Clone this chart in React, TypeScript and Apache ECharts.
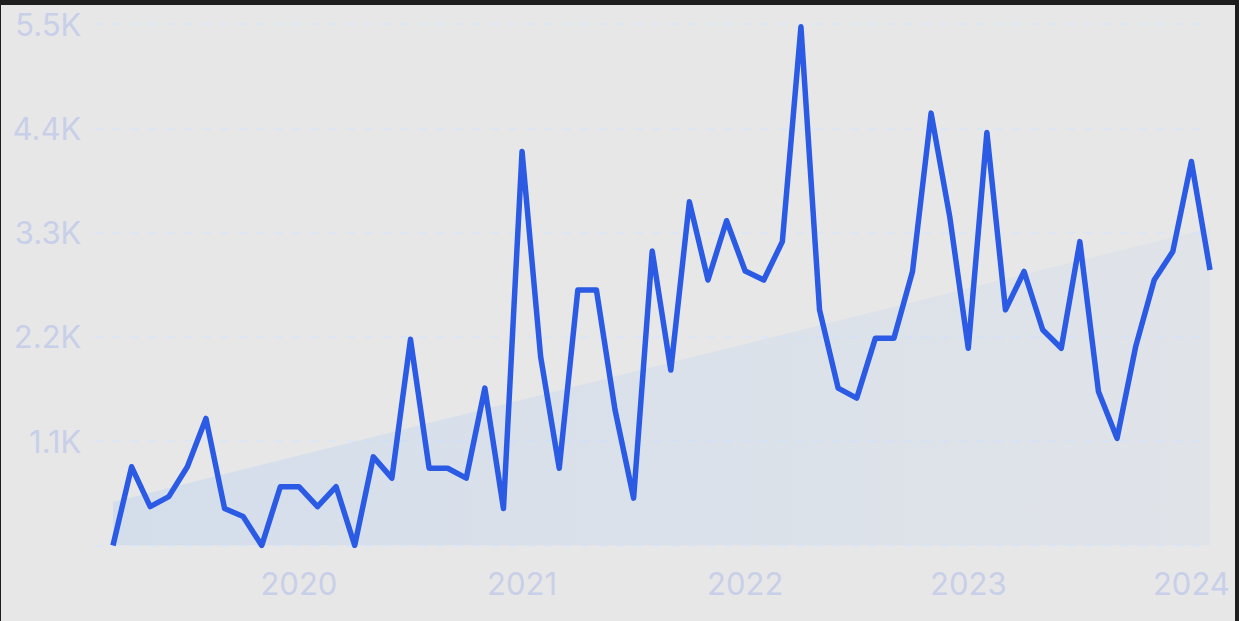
import React, { useEffect, useRef } from "react";
import * as echarts from "echarts";

// Month categories (first one is an empty lead-in slot before the data starts)
const categories = [
  "2019-02", "2019-03", "2019-04", "2019-05", "2019-06", "2019-07", "2019-08", "2019-09", "2019-10", "2019-11", "2019-12",
  "2020-01", "2020-02", "2020-03", "2020-04", "2020-05", "2020-06", "2020-07", "2020-08", "2020-09", "2020-10", "2020-11", "2020-12",
  "2021-01", "2021-02", "2021-03", "2021-04", "2021-05", "2021-06", "2021-07", "2021-08", "2021-09", "2021-10", "2021-11", "2021-12",
  "2022-01", "2022-02", "2022-03", "2022-04", "2022-05", "2022-06", "2022-07", "2022-08", "2022-09", "2022-10", "2022-11", "2022-12",
  "2023-01", "2023-02", "2023-03", "2023-04", "2023-05", "2023-06", "2023-07", "2023-08", "2023-09", "2023-10", "2023-11", "2023-12",
  "2024-01", "2024-02",
];

// Monthly values from 2019-03 to 2024-02
const values = [
  0, 830, 410, 515, 830, 1340, 390, 305, 0, 620,
  620, 410, 620, 0, 935, 710, 2175, 815, 815, 710,
  1660, 390, 4155, 1990, 815, 2695, 2695, 1430, 500, 3105,
  1850, 3625, 2800, 3425, 2895, 2800, 3205, 5470, 2485, 1660,
  1555, 2185, 2185, 2890, 4560, 3470, 2080, 4355, 2485, 2890,
  2275, 2080, 3205, 1625, 1130, 2095, 2800, 3100, 4050, 2905,
];

// Trend band: start and end values
const trendCategories = ["2019-03", "2024-02"];
const trendValues = [460, 3350];

const yTicks = { min: 0, max: 5500, interval: 1100 };

export default function App() {
  const ref = useRef<HTMLDivElement>(null);

  useEffect(() => {
    const chart = echarts.init(ref.current as HTMLDivElement, null, { renderer: "svg" });
    const labelColor = "#c8cfe9";
    chart.setOption({
      animation: false,
      backgroundColor: "transparent",
      grid: {
        left: 94.4,
        right: 29,
        top: 24,
        bottom: 75.5,
        containLabel: false,
        outerBoundsMode: "none",
      },
      xAxis: {
        type: "category",
        data: categories,
        boundaryGap: false,
        axisLine: { show: false },
        axisTick: { show: false },
        splitLine: { show: false },
        axisLabel: {
          interval: (_i: number, v: string) => v.endsWith("-01"),
          formatter: (v: string) => v.slice(0, 4),
          color: labelColor,
          fontFamily: "Inter",
          fontSize: 31,
          margin: 22,
        },
      },
      yAxis: {
        type: "value",
        min: yTicks.min,
        max: yTicks.max,
        interval: yTicks.interval,
        axisLine: { show: false },
        axisTick: { show: false },
        axisLabel: {
          formatter: (v: number) => (v === 0 ? "" : (v / 1000).toFixed(1) + "K"),
          color: labelColor,
          fontFamily: "Inter",
          fontSize: 31,
          margin: 13,
        },
        splitLine: {
          show: true,
          lineStyle: { color: "#dde6f5", width: 2, type: [8, 10] },
        },
      },
      series: [
        {
          type: "line",
          data: trendCategories.map((c, i) => [c, trendValues[i]]),
          symbol: "none",
          lineStyle: { width: 0 },
          areaStyle: {
            color: new echarts.graphic.LinearGradient(0, 0, 1, 0, [
              { offset: 0, color: "rgba(185,208,240,0.6)" },
              { offset: 1, color: "rgba(195,214,240,0.28)" },
            ]),
          },
          z: 1,
          silent: true,
        },
        {
          type: "line",
          data: ["-", ...values],
          symbol: "none",
          lineStyle: { color: "#2b5be5", width: 5.5, join: "round", cap: "butt" },
          z: 3,
        },
      ],
    });
    return () => chart.dispose();
  }, []);

  return (
    <div style={{ position: "fixed", left: 0, top: 0, width: 1239, height: 621, background: "#1e1e1e", overflow: "hidden" }}>
      <div style={{ position: "absolute", left: 1, top: 5, width: 1234, height: 616, background: "#e7e7e7" }} />
      <div ref={ref} style={{ position: "absolute", left: 0, top: 0, width: 1239, height: 621 }} />
    </div>
  );
}
